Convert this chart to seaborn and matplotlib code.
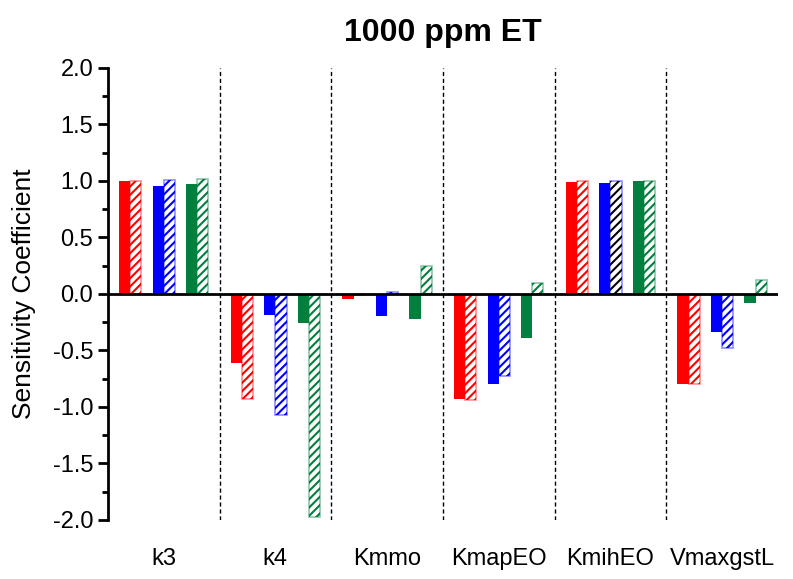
import matplotlib
matplotlib.use("Agg")
import matplotlib.pyplot as plt
from matplotlib.patches import Rectangle
from matplotlib.ticker import MultipleLocator, FormatStrFormatter
import seaborn as sns
import pandas as pd

params = ['k3', 'k4', 'Kmmo', 'KmapEO', 'KmihEO', 'VmaxgstL']

red = [1.00, -0.61, -0.05, -0.93, 0.99, -0.80]
red_h = [1.00, -0.93, -0.01, -0.94, 1.00, -0.80]
blue = [0.95, -0.19, -0.20, -0.80, 0.98, -0.34]
blue_h = [1.01, -1.07, 0.015, -0.73, 1.00, -0.48]
green = [0.97, -0.26, -0.22, -0.39, 1.00, -0.08]
green_h = [1.02, -1.97, 0.25, 0.10, 1.00, 0.12]

# gap1/gap2 are empty slots that split the bars of a group into pairs
series = {'red': red, 'red hatched': red_h, 'gap1': [0] * 6,
          'blue': blue, 'blue hatched': blue_h, 'gap2': [0] * 6,
          'green': green, 'green hatched': green_h}
colors = {'red': '#ff0000', 'red hatched': '#ff0000', 'gap1': 'white',
          'blue': '#0000ff', 'blue hatched': '#0000ff', 'gap2': 'white',
          'green': '#007f3f', 'green hatched': '#007f3f'}

rows = []
for name, vals in series.items():
    for p, v in zip(params, vals):
        rows.append({'param': p, 'series': name, 'value': v})
df = pd.DataFrame(rows)

sns.set_theme(style="white")
plt.rcParams['font.family'] = ['Liberation Sans', 'DejaVu Sans']
plt.rcParams['text.color'] = 'black'
plt.rcParams['axes.labelcolor'] = 'black'
plt.rcParams['xtick.color'] = 'black'
plt.rcParams['ytick.color'] = 'black'
plt.rcParams['hatch.linewidth'] = 1.5

fig = plt.figure(figsize=(7.93, 5.79), dpi=100)
ax = fig.add_axes([0.136, 0.102, 0.845, 0.781])

sns.barplot(data=df, x='param', y='value', hue='series', order=params,
            hue_order=list(series.keys()), palette=colors, errorbar=None,
            width=0.8, saturation=1, linewidth=0, legend=False, ax=ax)

names = list(series.keys())
for cont, name in zip(ax.containers, names):
    for i, bar in enumerate(cont.patches):
        if name.startswith('gap'):
            bar.set_visible(False)
        elif name.endswith('hatched'):
            c = colors[name]
            hc = 'black' if (name == 'blue hatched' and params[i] == 'KmihEO') else c
            bar.set_facecolor('white')
            bar.set_edgecolor(hc)
            bar.set_hatch('////')
            bar.set_linewidth(0)
            ax.add_patch(Rectangle(bar.get_xy(), bar.get_width(), bar.get_height(),
                                   fill=False, edgecolor=c, alpha=0.45, lw=1.2, zorder=3))

for x in [0.5, 1.5, 2.5, 3.5, 4.5]:
    ax.axvline(x, color='black', lw=1, ls=(0, (3, 2)), zorder=0)
ax.axhline(0, color='black', lw=2, zorder=4)

ax.set_xlim(-0.5, 5.5)
ax.set_ylim(-2.0, 2.0)
ax.yaxis.set_major_locator(MultipleLocator(0.5))
ax.yaxis.set_minor_locator(MultipleLocator(0.25))
ax.yaxis.set_major_formatter(FormatStrFormatter('%.1f'))

for s in ['top', 'right', 'bottom']:
    ax.spines[s].set_visible(False)
ax.spines['left'].set_linewidth(2)
ax.spines['left'].set_color('black')

ax.tick_params(axis='y', which='major', direction='out', length=7, width=2,
               labelsize=17, left=True)
ax.tick_params(axis='y', which='minor', direction='out', length=4, width=2, left=True)
ax.tick_params(axis='x', length=0, pad=20, labelsize=17)
ax.set_xlabel('')
ax.set_ylabel('Sensitivity Coefficient', fontsize=19, labelpad=12)
ax.set_title('1000 ppm ET', fontsize=23, fontweight='bold', pad=19)

fig.savefig('out.png', dpi=100)
